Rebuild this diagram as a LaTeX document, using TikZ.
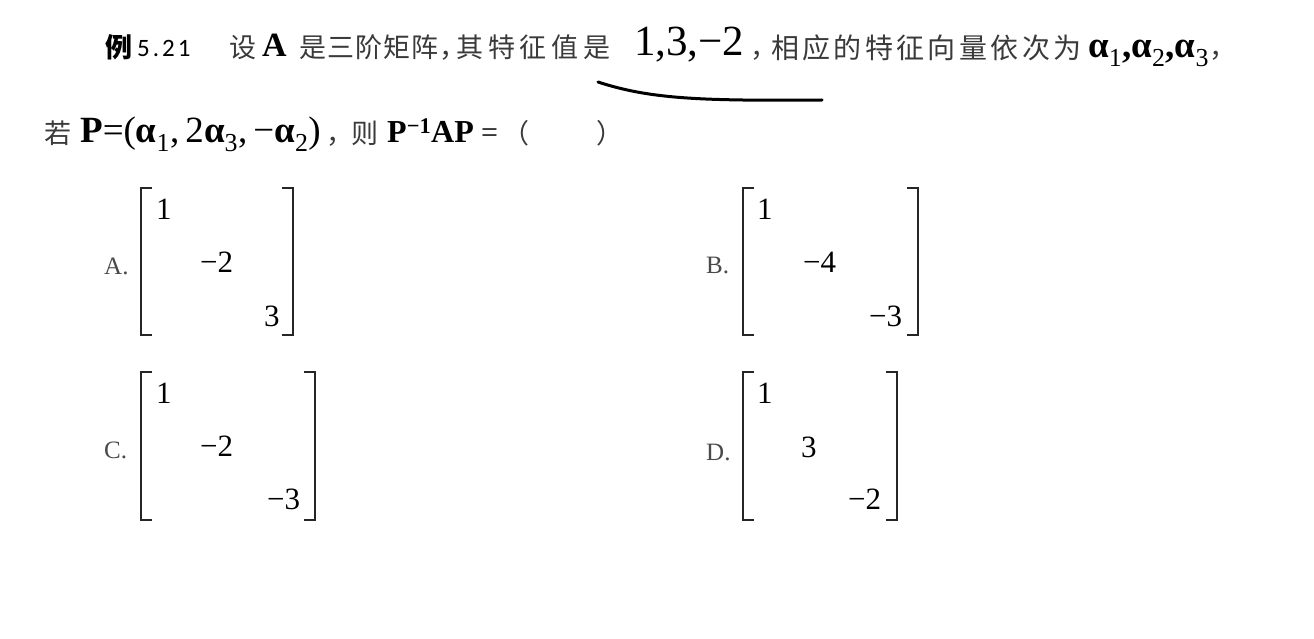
\documentclass[tikz,border=0pt]{standalone}
\usepackage{fontspec}
\setmainfont{Liberation Serif}
\newfontfamily\zh{Noto Sans CJK SC}
\newfontfamily\numfont[LetterSpace=12]{Carlito}
\definecolor{zhgray}{HTML}{3A3A3A}
\definecolor{optgray}{HTML}{4A4A4A}
\usetikzlibrary{positioning}
\tikzset{brk/.style={line width=1.3pt, draw=black!85}}
\newcommand{\mbrk}[4]{%
  \draw[brk] (#1+11,#3) -- (#1,#3) -- (#1,#4) -- (#1+11,#4);
  \draw[brk] (#2-11,#3) -- (#2,#3) -- (#2,#4) -- (#2-11,#4);}

\begin{document}
\begin{tikzpicture}[x=1pt, y=-1pt]
                    \tikzstyle{every node}=[inner sep=0pt, anchor=base west]
                    \tikzstyle{zhn} = [font=\zh\addfontfeature{LetterSpace=4}\fontsize{27}{30}\selectfont, text=zhgray]
                    \tikzstyle{zhw} = [font=\zh\addfontfeature{LetterSpace=18}\fontsize{27}{30}\selectfont, text=zhgray]
                    \tikzstyle{zhbig} = [font=\zh\addfontfeature{LetterSpace=12}\fontsize{28}{32}\selectfont, text=zhgray]
                    \tikzstyle{mth} = [font=\fontsize{37}{44}\selectfont]
                    \tikzstyle{entry} = [font=\fontsize{31}{36}\selectfont]
                    \tikzstyle{opt} = [font=\fontsize{25}{28}\selectfont, text=optgray]

                    \fill[white] (0,0) rectangle (1314,639);
                    \useasboundingbox (0,0) rectangle (1314,639);

                    % first line
                    \node[zhn, text=black](v1) at (105,58) {\bfseries 例};
                    \node[font=\numfont\fontsize{25}{30}\selectfont](v2) at (137,57) {5.21};
                    \node[zhn](v3) at (229,58) {设};
                    \node[font=\bfseries\fontsize{34}{38}\selectfont](v4) at (262,57) {A};
                    \node[zhn](v5) at (299,58) {是三阶矩阵，};
                    \node[zhw](v6) at (456,58) {其特征值是};
                    \node[font=\fontsize{43}{48}\selectfont](v7) at (634,56) {1,3,−2};
                    \node[zhn](v8) at (750,58) {，};
                    \node[zhbig](v9) at (771,59) {相应的特征向量依次为};
                    \node[font=\bfseries\fontsize{37}{40}\selectfont](v10) at (1088,58)
                         {α\textsubscript{\mdseries 1},α\textsubscript{\mdseries 2},α\textsubscript{\mdseries 3}};
                    \node[zhn](v11) at (1209,58) {，};
                    \draw[line width=3pt, line cap=round] (598,82) .. controls (650,99) and (700,101) .. (822,100);

                    % second line
                    \node[zhn](w1) at (44,144) {若};
                    \node[mth](w2) at (80,143)
                         {\textbf{P}=(\textbf{α}\textsubscript{1},\,2\textbf{α}\textsubscript{3},\,−\textbf{α}\textsubscript{2})};
                    \node[zhn](w3) at (326,144) {，};
                    \node[zhn](w4) at (351,144) {则};
                    \node[font=\bfseries\fontsize{32}{36}\selectfont](w5) at (387,143) {P\textsuperscript{−1}AP};
                    \node[font=\fontsize{30}{34}\selectfont](w6) at (481,143) {=};
                    \node[zhn](w7) at (502,144) {（};
                    \node[zhn](w8) at (596,144) {）};

                    % option A
                    \node[opt](a0) at (104,274) {A.};
                    \node[entry](a1) at (156,219) {1};
                    \node[entry](a2) at (200,272) {−2};
                    \node[entry](a3) at (264,326) {3};
                    \mbrk{141}{293}{188}{335}

                    % option B
                    \node[opt](b0) at (706,273) {B.};
                    \node[entry](b1) at (757,219) {1};
                    \node[entry](b2) at (803,272) {−4};
                    \node[entry](b3) at (869,326) {−3};
                    \mbrk{743}{918}{188}{335}

                    % option C
                    \node[opt](c0) at (104,458) {C.};
                    \node[entry](c1) at (156,403) {1};
                    \node[entry](c2) at (200,456) {−2};
                    \node[entry](c3) at (267,509) {−3};
                    \mbrk{141}{315}{372}{520}

                    % option D
                    \node[opt](d0) at (706,460) {D.};
                    \node[entry](d1) at (757,403) {1};
                    \node[entry](d2) at (801,457) {3};
                    \node[entry](d3) at (848,509) {−2};
                    \mbrk{743}{897}{372}{520}
\end{tikzpicture}
\end{document}
